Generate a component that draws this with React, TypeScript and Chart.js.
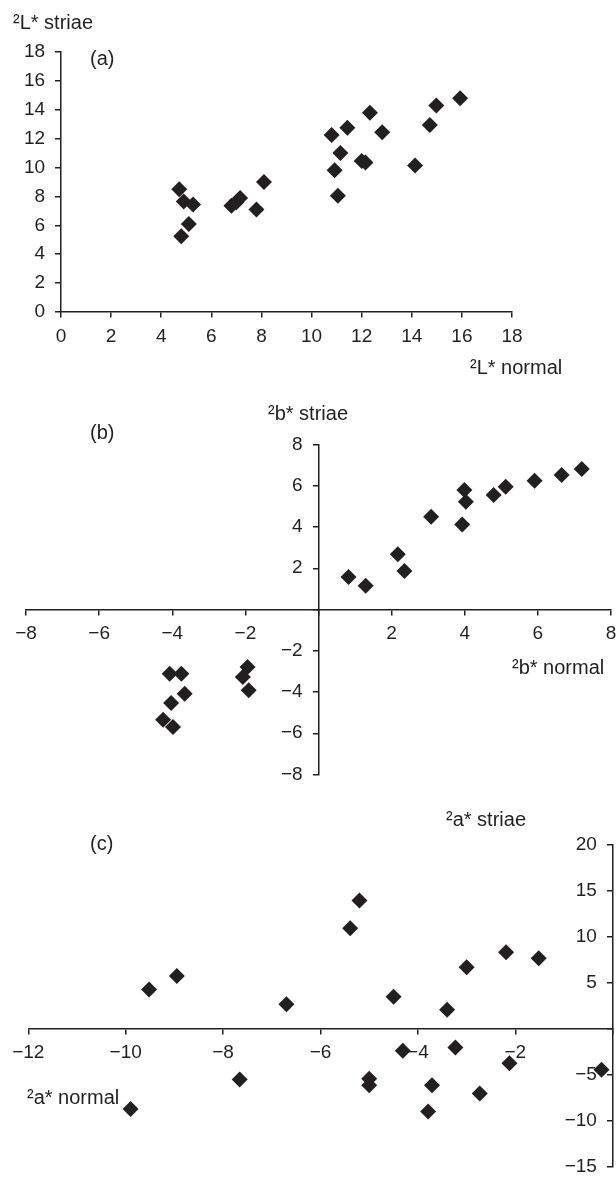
import React, { useEffect, useRef } from 'react';
import { Chart, registerables } from 'chart.js';

Chart.register(...registerables);

const INK = '#231f20';
const FONT = '"Liberation Sans", Arial, Helvetica, sans-serif';

// Panel (a): ΔL*
const aNormal = [4.72, 4.9, 5.27, 5.1, 4.8, 6.8, 7.0, 7.15, 7.8, 8.1, 10.8, 11.15, 10.92, 11.05, 11.43, 12.0, 12.15, 12.33, 12.82, 14.13, 14.72, 14.98, 15.93];
const aStriae = [8.5, 7.65, 7.45, 6.1, 5.25, 7.35, 7.6, 7.9, 7.1, 9.0, 12.25, 11.0, 9.82, 8.05, 12.75, 10.45, 10.35, 13.8, 12.45, 10.15, 12.95, 14.3, 14.8];
const aXTicks = [0, 2, 4, 6, 8, 10, 12, 14, 16, 18];
const aYTicks = [0, 2, 4, 6, 8, 10, 12, 14, 16, 18];

// Panel (b): Δb*
const bNormal = [0.82, 1.29, 2.17, 2.35, 3.08, 3.93, 3.99, 4.03, 4.79, 5.12, 5.91, 6.65, 7.2, -4.07, -3.75, -3.66, -4.03, -4.25, -3.98, -1.94, -2.07, -1.91];
const bStriae = [1.58, 1.15, 2.68, 1.87, 4.5, 4.12, 5.79, 5.22, 5.55, 5.95, 6.24, 6.52, 6.81, -3.11, -3.11, -4.08, -4.53, -5.34, -5.7, -2.79, -3.27, -3.92];
const bXTicks = [-8, -6, -4, -2, 0, 2, 4, 6, 8];
const bYTicks = [-8, -6, -4, -2, 0, 2, 4, 6, 8];

// Panel (c): Δa*
const cNormal = [-9.52, -8.95, -9.9, -7.66, -6.7, -5.39, -5.2, -5.0, -5.0, -4.5, -4.31, -3.79, -3.71, -3.4, -3.23, -3.0, -2.73, -2.19, -2.12, -1.52, -0.23];
const cStriae = [4.29, 5.75, -8.71, -5.5, 2.68, 10.93, 13.96, -5.43, -6.14, 3.5, -2.39, -9.0, -6.14, 2.07, -2.04, 6.71, -7.04, 8.32, -3.75, 7.68, -4.45];
const cXTicks = [-12, -10, -8, -6, -4, -2, 0];
const cYTicks = [-15, -10, -5, 0, 5, 10, 15, 20];

type Pad = { left: number; right: number; top: number; bottom: number };

const CANVAS_W = 700;

function fmt(v: number, hideZero: boolean, kind: 'x' | 'y') {
  if (hideZero && v === 0) return '';
  const s = String(v).replace('-', '\u2212');
  // y labels are right-aligned on the axis line: trailing spaces leave room for the tick
  return kind === 'y' ? s + '   ' : s;
}

function axis(kind: 'x' | 'y', ticksArr: number[], hideZero: boolean) {
  const min = Math.min(...ticksArr);
  const max = Math.max(...ticksArr);
  return {
    type: 'linear',
    min,
    max,
    position: kind === 'x' ? { y: 0 } : { x: 0 },
    afterBuildTicks: (s: any) => {
      s.ticks = ticksArr.map((v) => ({ value: v }));
    },
    grid: {
      display: true,
      drawOnChartArea: false,
      drawTicks: true,
      tickLength: 5,
      color: INK,
      lineWidth: 1.5,
    },
    border: { display: true, color: INK, width: 1.5 },
    ticks: {
      autoSkip: false,
      maxRotation: 0,
      padding: 8,
      color: INK,
      font: { family: FONT, size: 19 },
      callback: (v: any) => fmt(Number(v), hideZero, kind),
    },
  };
}

function Panel(props: {
  top: number;
  height: number;
  xs: number[];
  ys: number[];
  xTicks: number[];
  yTicks: number[];
  hideZero: boolean;
  pad: Pad;
}) {
  const ref = useRef<HTMLCanvasElement>(null);
  useEffect(() => {
    if (!ref.current) return;
    const data = props.xs.map((x, i) => ({ x, y: props.ys[i] }));
    const chart = new Chart(ref.current, {
      type: 'scatter',
      data: {
        datasets: [
          {
            data,
            pointStyle: 'rectRot',
            pointRadius: 8,
            pointHoverRadius: 8,
            backgroundColor: INK,
            borderColor: INK,
            borderWidth: 0,
            clip: false,
          } as any,
        ],
      },
      options: {
        responsive: false,
        animation: false,
        devicePixelRatio: 1,
        layout: { padding: props.pad },
        plugins: { legend: { display: false }, tooltip: { enabled: false } },
        scales: {
          x: axis('x', props.xTicks, props.hideZero) as any,
          y: axis('y', props.yTicks, props.hideZero) as any,
        },
      },
    });
    return () => chart.destroy();
  }, []);
  return (
    <canvas
      ref={ref}
      width={CANVAS_W}
      height={props.height}
      style={{ position: 'absolute', left: 0, top: props.top, width: CANVAS_W, height: props.height }}
    />
  );
}

function Label(props: { text: string; x: number; cy: number }) {
  return (
    <div
      style={{
        position: 'absolute',
        left: props.x,
        top: props.cy - 10.5,
        fontFamily: FONT,
        fontSize: 20,
        lineHeight: '20px',
        color: INK,
        whiteSpace: 'nowrap',
      }}
    >
      {props.text}
    </div>
  );
}

export default function App() {
  return (
    <div style={{ position: 'absolute', left: 0, top: 0, width: 616, height: 1177, background: '#fff', overflow: 'hidden' }}>
      <Panel top={0} height={390} xs={aNormal} ys={aStriae} xTicks={aXTicks} yTicks={aYTicks} hideZero={false}
        pad={{ left: 61, right: CANVAS_W - 512, top: 52, bottom: 78 }} />
      <Panel top={390} height={440} xs={bNormal} ys={bStriae} xTicks={bXTicks} yTicks={bYTicks} hideZero={true}
        pad={{ left: 26, right: CANVAS_W - 611, top: 54.5, bottom: 440 - 384.5 }} />
      <Panel top={790} height={430} xs={cNormal} ys={cStriae} xTicks={cXTicks} yTicks={cYTicks} hideZero={true}
        pad={{ left: 28.3, right: CANVAS_W - 612.7, top: 55, bottom: 430 - 376.7 }} />

      <Label text="²L* striae" x={13} cy={22} />
      <Label text="(a)" x={90} cy={58} />
      <Label text="²L* normal" x={470} cy={367} />

      <Label text="(b)" x={90} cy={432} />
      <Label text="²b* striae" x={268} cy={413} />
      <Label text="²b* normal" x={512} cy={667} />

      <Label text="(c)" x={90} cy={843} />
      <Label text="²a* striae" x={446} cy={819} />
      <Label text="²a* normal" x={27} cy={1097} />
    </div>
  );
}
